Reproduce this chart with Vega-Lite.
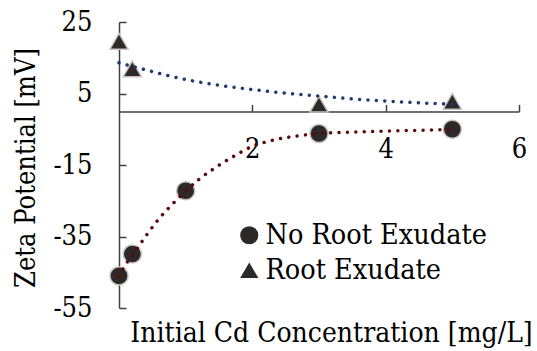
{
  "$schema": "https://vega.github.io/schema/vega-lite/v6.json",
  "width": 400,
  "height": 286,
  "autosize": {"type": "none"},
  "padding": {"left": 119, "top": 22, "right": 18, "bottom": 43},
  "background": "white",
  "config": {
    "font": "DejaVu Serif Condensed",
    "view": {"stroke": null},
    "axis": {"grid": false, "labelFont": "DejaVu Serif Condensed", "titleFont": "DejaVu Serif Condensed", "labelColor": "#000000", "titleColor": "#000000", "titleFontWeight": "normal", "domainColor": "#404040", "tickColor": "#404040", "domainWidth": 1.5, "tickWidth": 1.5, "labelFontSize": 27, "titleFontSize": 27, "labelFlush": false, "labelOverlap": false},
    "legend": {"labelFont": "DejaVu Serif Condensed"}
  },
  "datasets": {
    "pts": [
      {"x": 0, "y": -46, "series": "No Root Exudate"},
      {"x": 0.2, "y": -39.9, "series": "No Root Exudate"},
      {"x": 1, "y": -22.2, "series": "No Root Exudate"},
      {"x": 3, "y": -6.2, "series": "No Root Exudate"},
      {"x": 5, "y": -5.0, "series": "No Root Exudate"},
      {"x": 0, "y": 19.6, "series": "Root Exudate"},
      {"x": 0.2, "y": 11.9, "series": "Root Exudate"},
      {"x": 3, "y": 2.0, "series": "Root Exudate"},
      {"x": 5, "y": 2.8, "series": "Root Exudate"}
    ],
    "trendNo": [
      {"x": 0, "y": -46.2},
      {"x": 0.06, "y": -44},
      {"x": 0.2, "y": -40.3},
      {"x": 0.36, "y": -36},
      {"x": 0.58, "y": -30.5},
      {"x": 0.81, "y": -25.8},
      {"x": 1.0, "y": -22.3},
      {"x": 1.2, "y": -19},
      {"x": 1.4, "y": -16.3},
      {"x": 1.7, "y": -12.8},
      {"x": 2.0, "y": -9.8},
      {"x": 2.3, "y": -8.1},
      {"x": 2.7, "y": -6.8},
      {"x": 3.0, "y": -6.2},
      {"x": 3.5, "y": -5.8},
      {"x": 4.0, "y": -5.5},
      {"x": 4.5, "y": -5.3},
      {"x": 4.95, "y": -5.1}
    ],
    "trendRoot": [
      {"x": 0, "y": 13.6},
      {"x": 0.36, "y": 11.8},
      {"x": 1, "y": 8.9},
      {"x": 1.5, "y": 7.3},
      {"x": 2, "y": 6.1},
      {"x": 2.5, "y": 5.1},
      {"x": 3, "y": 4.3},
      {"x": 3.5, "y": 3.5},
      {"x": 4, "y": 2.9},
      {"x": 4.5, "y": 2.4},
      {"x": 5, "y": 2.0}
    ]
  },
  "layer": [
    {
      "data": {"name": "pts"},
      "mark": {"type": "point", "filled": true, "fill": "#2e2929", "stroke": "#cbc3c3", "strokeWidth": 1.5, "opacity": 1, "fillOpacity": 1, "strokeOpacity": 1, "size": 330},
      "encoding": {
        "x": {"field": "x", "type": "quantitative", "scale": {"domain": [0, 6], "nice": false, "zero": false},
          "axis": {"orient": "bottom", "offset": -196.6, "values": [2, 4, 6], "labelExpr": "'' + datum.value", "tickSize": -7, "labelPadding": 32, "title": "Initial Cd Concentration [mg/L]", "titleFontSize": 28, "titleX": 212, "titleY": 230.3, "titleAlign": "center", "titleBaseline": "alphabetic", "titleAngle": 0}},
        "y": {"field": "y", "type": "quantitative", "scale": {"domain": [-55, 25], "nice": false, "zero": false},
          "axis": {"orient": "left", "values": [-55, -35, -15, 5, 25], "labelExpr": "'' + datum.value", "tickSize": -7, "labelPadding": 34, "title": "Zeta Potential [mV]", "titleX": -85, "titleY": 145.5, "titleAngle": 270, "titleAlign": "center", "titleBaseline": "alphabetic"}},
        "shape": {"field": "series", "type": "nominal", "scale": {"domain": ["No Root Exudate", "Root Exudate"], "range": ["circle", "triangle-up"]},
          "legend": {"orient": "none", "legendX": 116, "legendY": 199, "title": null, "labelFont": "DejaVu Serif Condensed", "labelFontSize": 28.5, "labelLimit": 0, "labelColor": "#000000", "symbolSize": 330, "symbolFillColor": "#2e2929", "symbolStrokeColor": "#cbc3c3", "symbolStrokeWidth": 1.5, "symbolOpacity": 1, "labelOffset": 2, "rowPadding": 6}}
      }
    },
    {
      "data": {"name": "trendNo"},
      "mark": {"type": "line", "color": "#5a0a0a", "strokeWidth": 3.5, "strokeCap": "round", "strokeDash": [0.01, 8.4], "interpolate": "monotone"},
      "encoding": {
        "x": {"field": "x", "type": "quantitative"},
        "y": {"field": "y", "type": "quantitative"}
      }
    },
    {
      "data": {"name": "trendRoot"},
      "mark": {"type": "line", "color": "#1f3a6e", "strokeWidth": 3.5, "strokeCap": "round", "strokeDash": [0.01, 8.4], "interpolate": "monotone"},
      "encoding": {
        "x": {"field": "x", "type": "quantitative"},
        "y": {"field": "y", "type": "quantitative"}
      }
    }
  ]
}
